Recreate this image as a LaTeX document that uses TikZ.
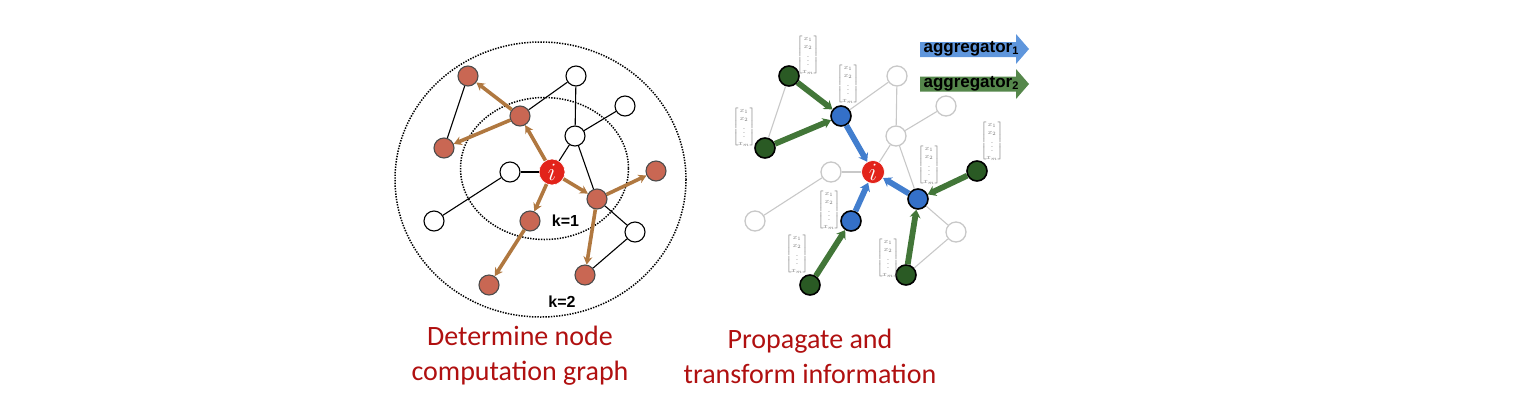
\documentclass[tikz,border=0pt]{standalone}
\usepackage{amsmath}
\usepackage{fontspec}
\setmainfont{Liberation Sans}
\newfontfamily\capfont{Carlito}
\usetikzlibrary{arrows.meta,positioning,calc}
\definecolor{nodebrown}{RGB}{201,103,83}
\definecolor{arrowbrown}{RGB}{176,120,64}
\definecolor{nodered}{RGB}{226,35,26}
\definecolor{nodeblue}{RGB}{52,112,200}
\definecolor{nodegreen}{RGB}{42,90,36}
\definecolor{arrowgreen}{RGB}{66,118,56}
\definecolor{arrowblue}{RGB}{66,126,206}
\definecolor{aggblue}{RGB}{95,150,220}
\definecolor{agggreen}{RGB}{85,135,75}
\definecolor{fadegray}{RGB}{200,200,200}
\definecolor{captionred}{RGB}{176,16,16}
\newcommand{\xvec}{$\begin{bmatrix}x_1\\x_2\\\vdots\\x_m\end{bmatrix}$}
\newcommand{\aggsub}[1]{\raisebox{-2pt}{\fontsize{11}{11}\selectfont #1}}

\begin{document}
\begin{tikzpicture}[x=1pt,y=-1pt,>=Stealth,
  plainnode/.style={circle,draw=black,fill=white,line width=1.1pt,minimum size=20pt,inner sep=0pt},
  brownnode/.style={plainnode,draw=black!70,fill=nodebrown},
  fadenode/.style={plainnode,draw=fadegray,line width=1.3pt},
  bluenode/.style={plainnode,fill=nodeblue,line width=1.6pt},
  greennode/.style={plainnode,fill=nodegreen,line width=1.6pt},
  inode/.style={circle,draw=white,line width=0.6pt,fill=nodered,text=white,inner sep=0pt,font=\fontsize{25}{25}\selectfont},
  edge/.style={draw=black,line width=1.1pt},
  fadeedge/.style={draw=fadegray,line width=1.1pt},
  brownarrow/.style={draw=arrowbrown,line width=3.6pt,-{Stealth[length=8pt,width=9pt]}},
  greenarrow/.style={draw=arrowgreen,line width=5.8pt,-{Stealth[length=8pt,width=11pt]}},
  bluearrow/.style={draw=arrowblue,line width=5.8pt,-{Stealth[length=8pt,width=11pt]}},
  hopring/.style={draw=black,line width=1.5pt,dash pattern=on 1.4pt off 1.3pt},
  klabel/.style={font=\fontsize{16}{16}\selectfont\bfseries},
  vecnode/.style={text=black!55,inner sep=0pt,font=\fontsize{7}{8}\selectfont},
  agglabel/.style={font=\fontsize{17}{17}\selectfont\bfseries,inner sep=0pt},
  caption/.style={text=captionred,align=center,font=\capfont\fontsize{28}{35}\selectfont}]
\useasboundingbox (0,0) rectangle (1518,416);

% left: computation graph of node i
\draw[hopring] (540.5,179.5) ellipse [x radius=145.5, y radius=137.5];
\draw[hopring] (544.5,168.5) ellipse [x radius=84, y radius=71];
\foreach \n/\x/\y in {d/576/76,e/625/106,f/575/136,g/510/172,h/434/221,m/635/232}
  \node[plainnode] (l\n) at (\x,\y) {};
\foreach \n/\x/\y in {a/468/76,b/520/116,c/444/148,j/656/171,k/597/199,l/530/221,n/489/285,o/585/275}
  \node[brownnode] (l\n) at (\x,\y) {};
\node[inode,minimum size=26pt] (li) at (552,172) {$i$};
\foreach \u/\v in {a/c,b/d,d/f,f/e,f/i,g/i,g/h,f/k,k/m,m/o}
  \draw[edge] (l\u) -- (l\v);
\foreach \u/\v in {i/b,b/a,b/c,i/l,l/n,i/k,k/j,k/o}
  \draw[brownarrow] (l\u) -- (l\v);
\node[klabel] (k1) at (565.5,221) {k=1};
\node[klabel] (k2) at (562,302) {k=2};

% right: aggregation towards node i
\foreach \n/\x/\y in {d/576/76,e/625/106,f/575/136,g/510/172,h/434/221,m/635/232}
  \node[fadenode] (r\n) at (\x+321,\y) {};
\foreach \n/\x/\y in {a/468/76,c/444/148,j/656/171,n/489/285,o/585/275}
  \node[greennode] (r\n) at (\x+321,\y) {};
\foreach \n/\x/\y in {b/520/116,k/597/199,l/530/221}
  \node[bluenode] (r\n) at (\x+321,\y) {};
\node[inode,minimum size=23pt] (ri) at (873,172) {$i$};
\foreach \u/\v in {a/c,b/d,d/f,f/e,f/i,g/i,g/h,f/k,k/m,m/o}
  \draw[fadeedge] (r\u) -- (r\v);
\foreach \u/\v in {a/b,c/b,j/k,o/k,n/l}
  \draw[greenarrow] (r\u) -- (r\v);
\foreach \u/\v in {b/i,l/i,k/i}
  \draw[bluearrow] (r\u) -- (r\v);
\foreach \n/\x/\y in {a/808/55,b/848/84,c/744/127,k/929/165,j/992/141,l/829/210,n/797/254,o/888/258}
  \node[vecnode] (vec\n) at (\x,\y) {\xvec};

% aggregator legend
\fill[aggblue] (920,42) -- (1016,42) -- (1016,34) -- (1029,49) -- (1016,64) -- (1016,57) -- (920,57) -- cycle;
\fill[agggreen] (920,76.5) -- (1016,76.5) -- (1016,69) -- (1029,84) -- (1016,99) -- (1016,91.5) -- (920,91.5) -- cycle;
\node[agglabel] (agg1) at (971,49) {aggregator\aggsub{1}};
\node[agglabel] (agg2) at (971,84) {aggregator\aggsub{2}};

\node[caption] (capleft) at (520,356) {Determine node\\computation graph};
\node[caption] (capright) at (810,356) {Propagate and\\transform information};
\end{tikzpicture}
\end{document}
